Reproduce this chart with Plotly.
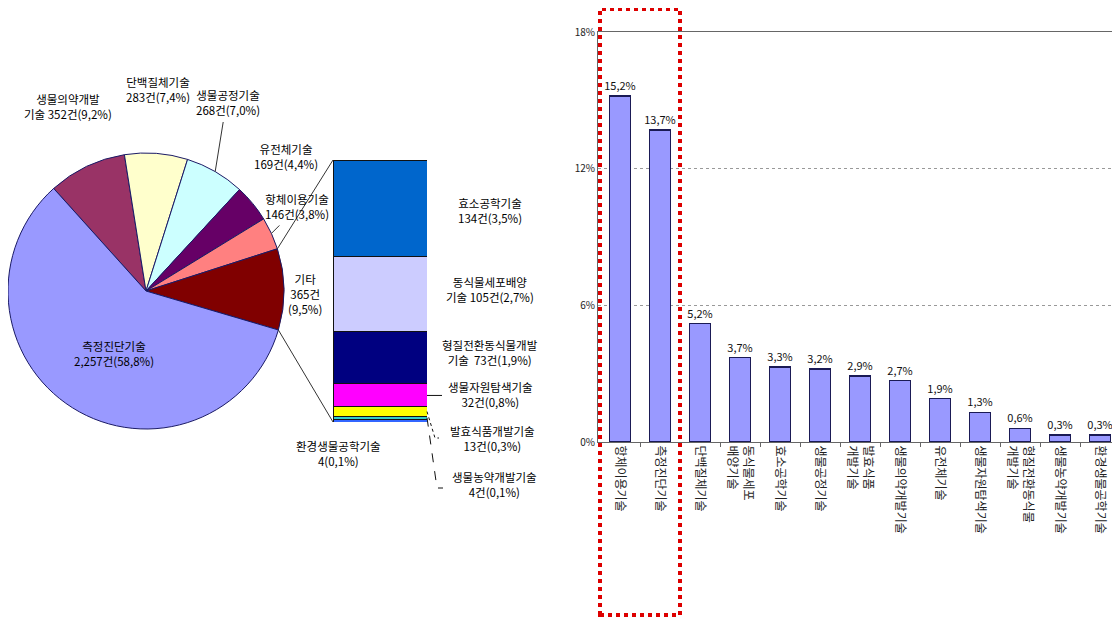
import math
import plotly.graph_objects as go

W, H = 1120, 619
FONT = "Noto Sans CJK KR"
OFF = 8  # the page body offsets the figure by 8px

# ---------------- data ----------------
pie_labels = ["생물의약개발기술", "단백질체기술", "생물공정기술", "유전체기술",
              "항체이용기술", "기타", "측정진단기술"]
pie_counts = [352, 283, 268, 169, 146, 365, 2257]
pie_pcts = [9.2, 7.4, 7.0, 4.4, 3.8, 9.5, 58.8]
pie_colors = ["#993366", "#FFFFCC", "#CCFFFF", "#660066", "#FF8080", "#800000", "#9999FF"]

etc_labels = ["환경생물공학기술", "생물농약개발기술", "발효식품개발기술", "생물자원탐색기술",
              "형질전환동식물개발기술", "동식물세포배양기술", "효소공학기술"]
etc_counts = [4, 4, 13, 32, 73, 105, 134]
etc_pcts = [0.1, 0.1, 0.3, 0.8, 1.9, 2.7, 3.5]
etc_colors = ["#3366FF", "#33CCCC", "#FFFF00", "#FF00FF", "#000080", "#CCCCFF", "#0066CC"]

bar_cats = ["항체이용기술", "측정진단기술", "단백질체기술", "동식물세포<br>배양기술",
            "효소공학기술", "생물공정기술", "발효식품<br>개발기술", "생물의약개발기술",
            "유전체기술", "생물자원탐색기술", "형질전환동식물<br>개발기술",
            "생물농약개발기술", "환경생물공학기술"]
bar_vals = [15.2, 13.7, 5.2, 3.7, 3.3, 3.2, 2.9, 2.7, 1.9, 1.3, 0.6, 0.3, 0.3]
y_ticks = [0, 6, 12, 18]
y_tick_text = ["0%", "6%", "12%", "18%"]


def px(x):
    return (x - OFF) / W


def py(y):
    return 1 - (y - OFF) / H


def kfmt(v):
    return f"{v:.1f}".replace(".", ",")


fig = go.Figure()

# ---------------- pie ----------------
CX, CY, R = 146, 291, 138
ROT = -42
fig.add_trace(go.Pie(
    labels=pie_labels, values=pie_counts, sort=False, direction="clockwise",
    rotation=ROT, marker=dict(colors=pie_colors, line=dict(color="#1a1a66", width=1)),
    textinfo="none", hoverinfo="label+value+percent", showlegend=False,
    domain=dict(x=[px(CX - R), px(CX + R)], y=[py(CY + R), py(CY - R)]),
))

total = sum(pie_counts)


def edge(frac, rr=R):
    th = math.radians(ROT + frac * 360)
    return CX + rr * math.sin(th), CY - rr * math.cos(th)


cum = [0]
for c in pie_counts:
    cum.append(cum[-1] + c)

# ---------------- stacked bar (breakdown of 기타) ----------------
BX0, BX1, BY0, BY1 = 333, 427, 160, 422
for lab, cnt, col in zip(etc_labels, etc_counts, etc_colors):
    fig.add_trace(go.Bar(
        x=[0], y=[cnt], name=lab, marker=dict(color=col, line=dict(color="#111", width=1)),
        width=1, xaxis="x2", yaxis="y2", showlegend=False, hoverinfo="name+y",
    ))

# ---------------- right bar chart ----------------
fig.add_trace(go.Bar(
    x=bar_cats, y=bar_vals, width=0.52,
    marker=dict(color="#9999FF", line=dict(color="#1a1a55", width=1.5)),
    text=[kfmt(v) + "%" for v in bar_vals], textposition="outside",
    constraintext="none",
    textfont=dict(family=FONT, size=11, color="#111"), cliponaxis=False,
    showlegend=False, xaxis="x", yaxis="y",
))

fig.update_layout(
    width=W, height=H, margin=dict(l=0, r=0, t=0, b=0, autoexpand=False),
    paper_bgcolor="white", plot_bgcolor="white", barmode="stack",
    font=dict(family=FONT, size=11, color="#111"),
    xaxis=dict(domain=[px(598), px(1120)], range=[-0.55, 12.5], type="category",
               showline=True, mirror=True, linecolor="#666", linewidth=1,
               ticks="outside", tickson="boundaries", ticklen=4, tickcolor="#666",
               tickangle=90, tickfont=dict(family=FONT, size=12, color="#222"),
               showgrid=False, anchor="y", automargin=False),
    yaxis=dict(domain=[py(442), py(32)], range=[0, 18], tickmode="array",
               tickvals=y_ticks, ticktext=y_tick_text,
               tickfont=dict(family=FONT, size=10, color="#222"),
               showgrid=True, gridcolor="#999", griddash="dot", gridwidth=1,
               zeroline=False, showline=True, linecolor="#666", anchor="x",
               automargin=False),
    xaxis2=dict(domain=[px(BX0), px(BX1)], range=[-0.5, 0.5], visible=False, anchor="y2",
                automargin=False),
    yaxis2=dict(domain=[py(BY1), py(BY0)], range=[0, sum(etc_counts)], visible=False,
                anchor="x2", automargin=False),
)

shapes = []
# red dotted highlight box
shapes.append(dict(type="rect", xref="paper", yref="paper",
                   x0=px(600), x1=px(680), y0=py(615), y1=py(9),
                   line=dict(color="#DD0000", width=4, dash="dot")))

# connector lines from 기타 slice to the stacked bar
i_etc = pie_labels.index("기타")
ax, ay = edge(cum[i_etc] / total)
bx, by = edge(cum[i_etc + 1] / total)
shapes.append(dict(type="line", xref="paper", yref="paper", x0=px(ax), y0=py(ay),
                   x1=px(BX0), y1=py(BY0), line=dict(color="#333", width=1)))
shapes.append(dict(type="line", xref="paper", yref="paper", x0=px(bx), y0=py(by),
                   x1=px(BX0), y1=py(BY1), line=dict(color="#333", width=1)))

# pie leader lines
i_g = pie_labels.index("생물공정기술")
gx, gy = edge((cum[i_g] + cum[i_g + 1]) / 2 / total)
shapes.append(dict(type="line", xref="paper", yref="paper", x0=px(gx), y0=py(gy),
                   x1=px(gx + 8), y1=py(122), line=dict(color="#333", width=1)))
i_h = pie_labels.index("항체이용기술")
hx, hy = edge((cum[i_h] + cum[i_h + 1]) / 2 / total)
shapes.append(dict(type="line", xref="paper", yref="paper", x0=px(hx), y0=py(hy),
                   x1=px(hx + 8), y1=py(hy - 8), line=dict(color="#333", width=1)))

# stacked bar leader lines
ecum = [0]
for c in etc_counts:
    ecum.append(ecum[-1] + c)
etot = ecum[-1]


def bar_y(v):
    return BY1 - v / etot * (BY1 - BY0)


i_r = etc_labels.index("생물자원탐색기술")
ry = bar_y((ecum[i_r] + ecum[i_r + 1]) / 2)
shapes.append(dict(type="line", xref="paper", yref="paper", x0=px(BX1), y0=py(ry),
                   x1=px(BX1 + 15), y1=py(ry), line=dict(color="#111", width=1)))
i_f = etc_labels.index("발효식품개발기술")
fy = bar_y((ecum[i_f] + ecum[i_f + 1]) / 2)
shapes.append(dict(type="path", xref="paper", yref="paper",
                   path=f"M {px(BX1)},{py(fy)} L {px(BX1 + 8)},{py(438)} L {px(BX1 + 12)},{py(438)}",
                   line=dict(color="#111", width=1, dash="dot")))
i_p = etc_labels.index("생물농약개발기술")
pyy = bar_y((ecum[i_p] + ecum[i_p + 1]) / 2)
shapes.append(dict(type="path", xref="paper", yref="paper",
                   path=f"M {px(BX1)},{py(pyy)} L {px(BX1 + 10)},{py(488)} L {px(BX1 + 16)},{py(488)}",
                   line=dict(color="#111", width=1, dash="dash")))

fig.update_layout(shapes=shapes)

# ---------------- annotations ----------------
def pl(i):
    return f"{pie_counts[i]:,}" + "건(" + kfmt(pie_pcts[i]) + "%)"


ann = []


def add(x, y, text):
    ann.append(dict(x=px(x), y=py(y), xref="paper", yref="paper", text=text,
                    showarrow=False, xanchor="center", yanchor="middle",
                    font=dict(family=FONT, size=11.5, color="#000")))


add(68, 106, "생물의약개발<br>기술 " + pl(0))
add(158, 89, "단백질체기술<br>" + pl(1))
add(228, 103, "생물공정기술<br>" + pl(2))
add(286, 157, "유전체기술<br>" + pl(3))
add(297, 206, "항체이용기술<br>" + pl(4))
add(305, 294, "기타<br>" + f"{pie_counts[5]}건<br>(" + kfmt(pie_pcts[5]) + "%)")
add(114, 353, "측정진단기술<br>" + pl(6))


def el(i):
    return f"{etc_counts[i]}건(" + kfmt(etc_pcts[i]) + "%)"


add(490, 210, "효소공학기술<br>" + el(6))
add(490, 289, "동식물세포배양<br>기술 " + el(5))
add(490, 352, "형질전환동식물개발<br>기술  " + el(4))
add(490, 394, "생물자원탐색기술<br>" + el(3))
add(492, 438, "발효식품개발기술<br>" + el(2))
add(494, 484, "생물농약개발기술<br>" + el(1))
add(338, 453, "환경생물공학기술<br>" + f"{etc_counts[0]}(" + kfmt(etc_pcts[0]) + "%)")

fig.update_layout(annotations=ann)

fig.write_html("out.html")
